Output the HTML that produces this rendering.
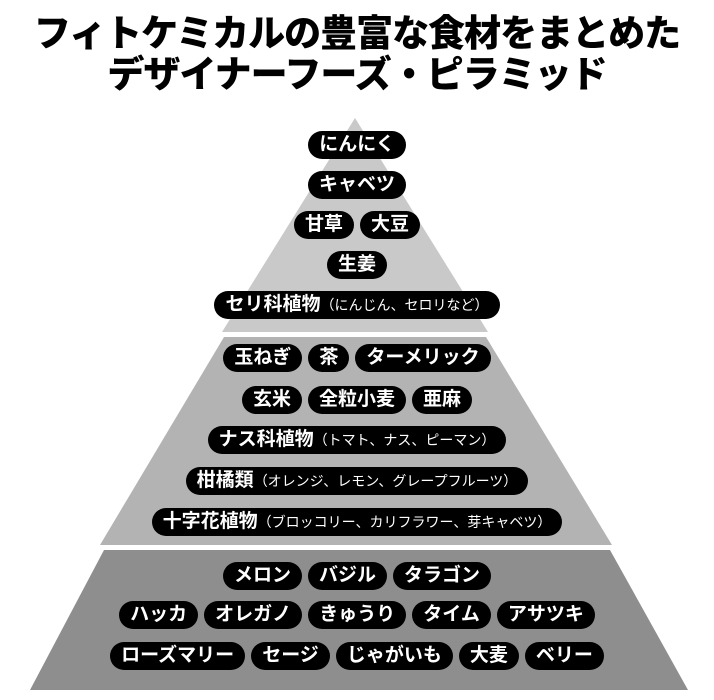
<!DOCTYPE html>
<html><head><meta charset="utf-8"><style>
body{margin:0;width:714px;height:700px;background:#fff;position:relative;overflow:hidden;font-family:"Liberation Sans","Noto Sans CJK JP",sans-serif}
.t{position:absolute;left:0;width:714px;text-align:center;font-weight:900;font-size:37px;letter-spacing:-1px;color:#000;line-height:42px}
.row{position:absolute;left:0;width:714px;display:flex;justify-content:center;gap:6px}
.p{background:#000;color:#fff;border-radius:14px;height:28px;line-height:28px;padding:0 11px;font-weight:700;font-size:19px;white-space:nowrap}
.p small{font-size:14px;font-weight:400}
</style></head><body>
<div class="t" style="top:13px">フィトケミカルの豊富な食材をまとめた</div>
<div class="t" style="top:54px">デザイナーフーズ・ピラミッド</div>
<svg width="714" height="700" style="position:absolute;left:0;top:0">
<polygon points="355,118 488,332 222,332" fill="#c9c9c9"/>
<polygon points="224,337 486,337 612,545 100,545" fill="#b3b3b3"/>
<polygon points="104,550 610,550 688,690 30,690" fill="#8e8e8e"/>
</svg>
<div class="row" style="top:131px"><span class="p">にんにく</span></div>
<div class="row" style="top:171px"><span class="p">キャベツ</span></div>
<div class="row" style="top:211px"><span class="p">甘草</span><span class="p">大豆</span></div>
<div class="row" style="top:251px"><span class="p">生姜</span></div>
<div class="row" style="top:291px"><span class="p">セリ科植物<small>（にんじん、セロリなど）</small></span></div>
<div class="row" style="top:344px"><span class="p">玉ねぎ</span><span class="p">茶</span><span class="p">ターメリック</span></div>
<div class="row" style="top:386px"><span class="p">玄米</span><span class="p">全粒小麦</span><span class="p">亜麻</span></div>
<div class="row" style="top:426px"><span class="p">ナス科植物<small>（トマト、ナス、ピーマン）</small></span></div>
<div class="row" style="top:467px"><span class="p">柑橘類<small>（オレンジ、レモン、グレープフルーツ）</small></span></div>
<div class="row" style="top:508px"><span class="p">十字花植物<small>（ブロッコリー、カリフラワー、芽キャベツ）</small></span></div>
<div class="row" style="top:562px"><span class="p">メロン</span><span class="p">バジル</span><span class="p">タラゴン</span></div>
<div class="row" style="top:601px"><span class="p">ハッカ</span><span class="p">オレガノ</span><span class="p">きゅうり</span><span class="p">タイム</span><span class="p">アサツキ</span></div>
<div class="row" style="top:642px"><span class="p">ローズマリー</span><span class="p">セージ</span><span class="p">じゃがいも</span><span class="p">大麦</span><span class="p">ベリー</span></div>
</body></html>
